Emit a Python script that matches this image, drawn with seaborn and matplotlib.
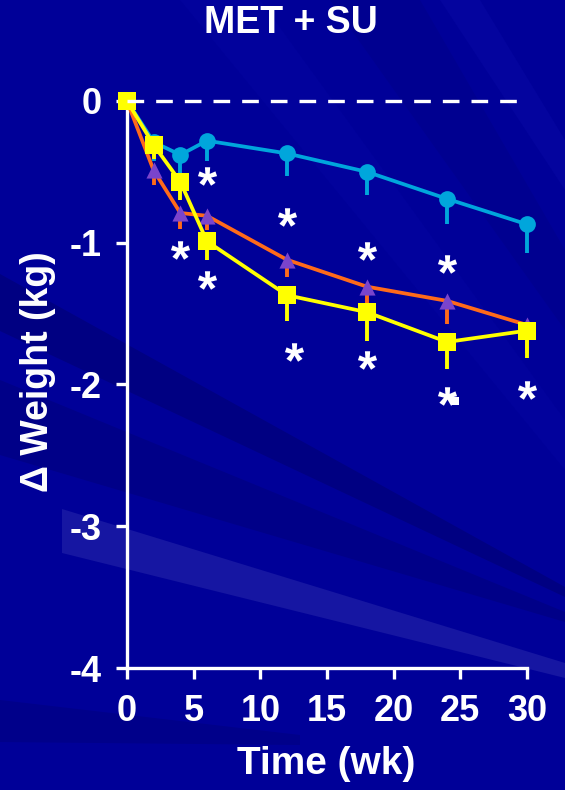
import numpy as np
import pandas as pd
import matplotlib
matplotlib.use("Agg")
import matplotlib.pyplot as plt
import seaborn as sns
from matplotlib.patches import Polygon

# ---- data -------------------------------------------------------------
weeks = [0, 2, 4, 6, 12, 18, 24, 30]

arm_a = [0, -0.29, -0.38, -0.28, -0.37, -0.50, -0.69, -0.87]
arm_a_err = [0, 0.13, 0.13, 0.14, 0.16, 0.16, 0.18, 0.20]

arm_b = [0, -0.49, -0.79, -0.81, -1.12, -1.31, -1.41, -1.58]
arm_b_err = [0, 0.10, 0.11, 0.10, 0.12, 0.16, 0.16, 0.20]

arm_c = [0, -0.31, -0.57, -0.99, -1.37, -1.49, -1.70, -1.62]
arm_c_err = [0, 0.10, 0.13, 0.13, 0.18, 0.20, 0.19, 0.19]

sig_x = [4, 6, 6, 12, 12.5, 18, 18, 24, 24, 30]
sig_y = [-1.05, -0.53, -1.26, -0.82, -1.77, -1.06, -1.83, -1.15, -2.08, -2.04]

x_ticks = [0, 5, 10, 15, 20, 25, 30]
y_ticks = [0, -1, -2, -3, -4]

# ---- style ------------------------------------------------------------
BG = "#000098"
sns.set_theme(style="white")
plt.rcParams["font.family"] = ["Liberation Sans", "DejaVu Sans"]
plt.rcParams["font.weight"] = "bold"
plt.rcParams["axes.unicode_minus"] = False
plt.rcParams["mathtext.fontset"] = "custom"
plt.rcParams["mathtext.rm"] = "Liberation Sans:bold"
plt.rcParams["mathtext.bf"] = "Liberation Sans:bold"

W, H = 565, 790
fig = plt.figure(figsize=(W / 100, H / 100), dpi=100)
fig.patch.set_facecolor(BG)


def px(points):
    return [(x / W, 1 - y / H) for x, y in points]


# background light rays
rays = [
    ([(0, 274), (565, 587), (565, 597), (0, 331)], "#000082"),
    ([(0, 380), (565, 612), (565, 622), (0, 455)], "#000088"),
    ([(62, 509), (565, 663), (565, 678), (62, 553)], "#1616a2"),
    ([(0, 700), (300, 735), (300, 745), (0, 742)], "#00008a"),
    ([(330, 0), (420, 0), (565, 250), (565, 330)], "#000090"),
    ([(440, 0), (480, 0), (565, 140), (565, 190)], "#04049e"),
    ([(180, 0), (260, 0), (565, 420), (565, 470)], "#02029c"),
]
for pts, col in rays:
    fig.add_artist(Polygon(px(pts), closed=True, transform=fig.transFigure,
                           facecolor=col, edgecolor="none", zorder=0))

ax = fig.add_axes([127 / W, 1 - 668 / H, 400 / W, 567 / H])
ax.set_facecolor("none")

arms = [
    ("A", arm_a, arm_a_err, "#00a6dc", "#00a6dc", "o", 145),
    ("B", arm_b, arm_b_err, "#ff6a1a", "#7a44cc", "^", 135),
    ("C", arm_c, arm_c_err, "#ffff00", "#ffff00", "s", 160),
]

for i, (name, vals, errs, lcol, mcol, mk, ms) in enumerate(arms):
    df = pd.DataFrame({"week": weeks, "change": vals, "err": errs})
    z = 3 + i * 3
    sub = df[df["err"] > 0]
    ax.vlines(sub["week"], sub["change"] - sub["err"], sub["change"],
              color=lcol, linewidth=2.8, zorder=z)
    sns.lineplot(data=df, x="week", y="change", color=lcol, linewidth=2.7,
                 sort=False, ax=ax, zorder=z + 1)
    sns.scatterplot(data=df, x="week", y="change", color=mcol, marker=mk,
                    s=ms, linewidth=0, ax=ax, zorder=z + 2)

# dashed reference line at zero change
ax.plot([0, 30], [0, 0], color="white", linewidth=2.4,
        linestyle=(0, (5.0, 3.6)), zorder=20)

# significance markers
sns.scatterplot(x=sig_x, y=sig_y, marker="$*$", s=190, color="white",
                linewidth=0, ax=ax, zorder=15)
ax.scatter([24.6], [-2.115], marker="s", s=30, color="white", linewidth=0,
           zorder=15)

ax.set_xlim(0, 30)
ax.set_ylim(-4, 0)
ax.set_xticks(x_ticks)
ax.set_yticks(y_ticks)
ax.set_xticklabels([str(t) for t in x_ticks])
ax.set_yticklabels([str(t) for t in y_ticks])
ax.set_xlabel("")
ax.set_ylabel("")

for art in ax.get_children():
    try:
        art.set_clip_on(False)
    except Exception:
        pass

for side in ["top", "right"]:
    ax.spines[side].set_visible(False)
for side in ["left", "bottom"]:
    ax.spines[side].set_color("white")
    ax.spines[side].set_linewidth(2.4)

ax.tick_params(axis="both", direction="out", length=8, width=2.4,
               colors="white", labelsize=26, left=True, bottom=True)
ax.tick_params(axis="x", pad=11)
ax.tick_params(axis="y", pad=10)
for lab in ax.get_xticklabels() + ax.get_yticklabels():
    lab.set_fontweight("bold")

fig.text(291 / W, 1 - 23 / H, "MET + SU", ha="center", va="center",
         color="white", fontsize=27, fontweight="bold")
fig.text(326 / W, 1 - 764 / H, "Time (wk)", ha="center", va="center",
         color="white", fontsize=28, fontweight="bold")
fig.text(38 / W, 1 - 372 / H, "\u0394 Weight (kg)", ha="center", va="center",
         rotation=90, color="white", fontsize=27, fontweight="bold")

fig.savefig("out.png", dpi=100, facecolor=fig.get_facecolor())
